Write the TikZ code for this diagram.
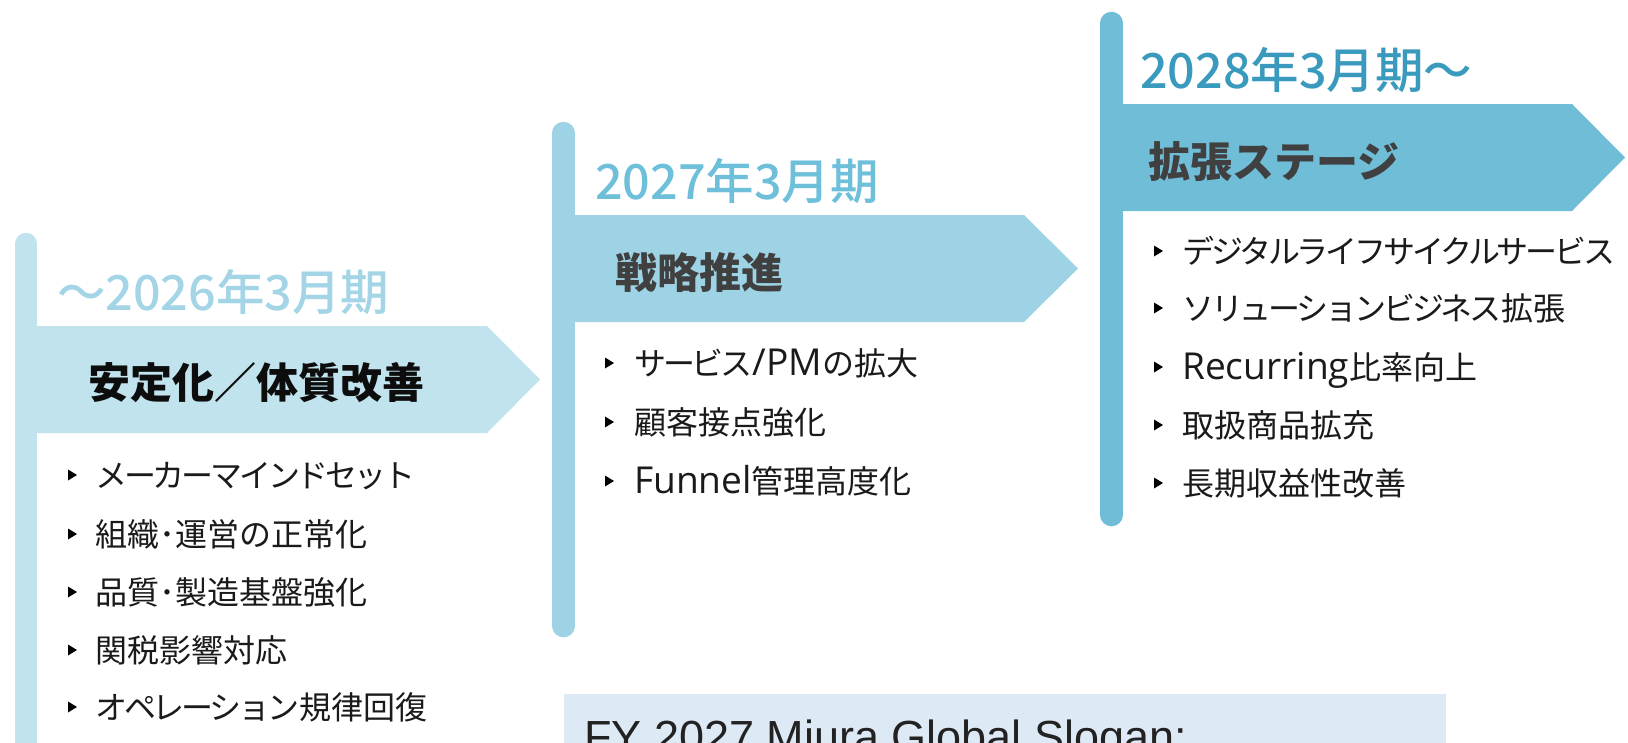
\documentclass[tikz,border=0pt]{standalone}
\usepackage{fontspec}
\setmainfont{Noto Sans CJK JP}
\IfFontExistsTF{Noto Sans CJK JP Medium}
  {\newfontfamily\yearfont{Noto Sans CJK JP Medium}}
  {\newfontfamily\yearfont{Noto Sans CJK JP}[FakeBold=4]}
\newfontfamily\latinfont[Scale=1.16]{Open Sans}
\newfontfamily\kanafont[LetterSpace=-10]{Noto Sans CJK JP}
\newfontfamily\slogfont{Liberation Sans}
\definecolor{bandA}{HTML}{C1E3ED}
\definecolor{yearA}{HTML}{A3D5E6}
\definecolor{bandB}{HTML}{9DD3E4}
\definecolor{yearB}{HTML}{6EBFDA}
\definecolor{bandC}{HTML}{6FBDD6}
\definecolor{yearC}{HTML}{3A9ABD}
\definecolor{titleA}{HTML}{0D0D0D}
\definecolor{titleB}{HTML}{404040}
\definecolor{itemtext}{HTML}{1A1A1A}
\definecolor{slogbox}{HTML}{DDEAF5}
\definecolor{slogtext}{HTML}{222222}
\newcommand\stageitem[5]{%
  \fill[black] (#2,#4-5.5) -- ++(9,5.5) -- ++(-9,5.5) -- cycle;
  \node[bitem] (#1) at (#3,#4+12) {#5};}
\newcommand\lt[1]{{\latinfont #1}}
\newcommand\kn[1]{{\kanafont #1}}
\begin{document}
\begin{tikzpicture}[x=1pt,y=-1pt,
  ylabel/.style={anchor=base west, inner sep=0pt, font=\yearfont\fontsize{48.5}{56}\selectfont},
  stagetitle/.style={anchor=base west, inner sep=0pt, font=\bfseries\fontsize{42}{50}\selectfont},
  bitem/.style={anchor=base west, inner sep=0pt, font=\fontsize{32}{38}\selectfont, text=itemtext},
  pole/.style={line width=22.5pt, line cap=round}]
\useasboundingbox (0,0) rectangle (1628,742);
\clip (0,0) rectangle (1628,742);
\fill[white] (0,0) rectangle (1628,742);

% stage 1
\draw[pole, bandA] (26,244) -- (26,780);
\fill[bandA] (26,326) -- (487,326) -- (540,379.5) -- (487,433) -- (26,433) -- cycle;
\node[ylabel, text=yearA] (y1) at (57,310) {～2026年3月期};
\node[stagetitle, text=titleA] (t1) at (88,398) {安定化／体質改善};
\stageitem{a1}{68}{95}{475}{\kn{メーカーマインドセット}}
\stageitem{a2}{68}{95}{534}{組織･運営の正常化}
\stageitem{a3}{68}{95}{592}{品質･製造基盤強化}
\stageitem{a4}{68}{95}{650}{関税影響対応}
\stageitem{a5}{68}{95}{707}{\kn{オペレーション}規律回復}

% stage 2
\draw[pole, bandB] (563.5,133) -- (563.5,626);
\fill[bandB] (563.5,215) -- (1024,215) -- (1078,268.5) -- (1024,322) -- (563.5,322) -- cycle;
\node[ylabel, text=yearB] (y2) at (595,199) {2027年3月期};
\node[stagetitle, text=titleB] (t2) at (615,288) {戦略推進};
\stageitem{b1}{605}{634}{363}{\kn{サービス}\lt{/PM}の拡大}
\stageitem{b2}{605}{634}{422}{顧客接点強化}
\stageitem{b3}{605}{634}{481}{\lt{Funnel}管理高度化}

% stage 3
\draw[pole, bandC] (1111.5,23) -- (1111.5,515);
\fill[bandC] (1111.5,104) -- (1572,104) -- (1625,157.5) -- (1572,211) -- (1111.5,211) -- cycle;
\node[ylabel, text=yearC] (y3) at (1140,88) {2028年3月期～};
\node[stagetitle, text=titleB] (t3) at (1148,177) {拡張ステージ};
\stageitem{c1}{1154}{1182}{251}{\kn{デジタルライフサイクルサービス}}
\stageitem{c2}{1154}{1182}{308}{\kn{ソリューションビジネス}拡張}
\stageitem{c3}{1154}{1182}{367}{\lt{Recurring}比率向上}
\stageitem{c4}{1154}{1182}{425}{取扱商品拡充}
\stageitem{c5}{1154}{1182}{483}{長期収益性改善}

% slogan box
\fill[slogbox] (564,694) rectangle (1446,800);
\node[anchor=base west, inner sep=0pt, text=slogtext, font=\slogfont\fontsize{45}{52}\selectfont] (slogan) at (584,752) {FY 2027 Miura Global Slogan:};
\end{tikzpicture}
\end{document}
